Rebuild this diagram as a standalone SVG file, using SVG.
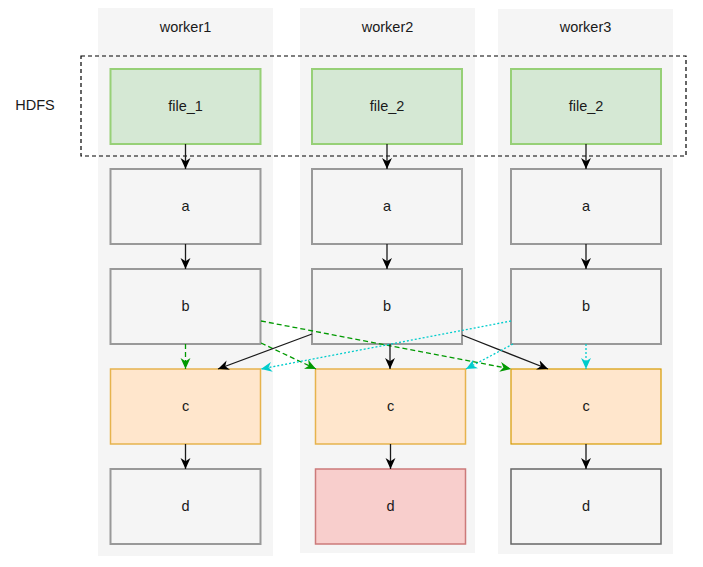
<svg xmlns="http://www.w3.org/2000/svg" width="703" height="567" viewBox="0 0 703 567">
<style>
.col{fill:#f5f5f5;stroke:none}
.grey{fill:#f5f5f5;stroke:#999999;stroke-width:2}
.grey2{fill:#f5f5f5;stroke:#666666;stroke-width:1.5}
.green{fill:#d5e8d4;stroke:#97d077;stroke-width:2}
.orange{fill:#ffe6cc;stroke:#e6b34d;stroke-width:1.5}
.orange2{fill:#ffe6cc;stroke:#d79b00;stroke-width:1.2}
.red{fill:#f8cecc;stroke:#cc7a7a;stroke-width:1.5}
text{font-family:"Liberation Sans",Arial,sans-serif;font-size:14.5px;fill:#1a1a1a;text-anchor:middle;dominant-baseline:central}
.blk{stroke:#1a1a1a;stroke-width:1.3;fill:none;marker-end:url(#ab)}
.grn{stroke:#009900;stroke-width:1.3;fill:none;stroke-dasharray:5 3;marker-end:url(#ag)}
.cyn{stroke:#00cccc;stroke-width:1.3;fill:none;stroke-dasharray:2 2;marker-end:url(#ac)}
</style>
<defs>
<marker id="ab" viewBox="0 0 10 10" refX="10" refY="5" markerWidth="11" markerHeight="11" markerUnits="userSpaceOnUse" orient="auto"><path d="M0,0.5 L10,5 L0,9.5 L3,5 Z" fill="#000000"/></marker>
<marker id="ag" viewBox="0 0 10 10" refX="10" refY="5" markerWidth="11" markerHeight="11" markerUnits="userSpaceOnUse" orient="auto"><path d="M0,0.5 L10,5 L0,9.5 L3,5 Z" fill="#009900"/></marker>
<marker id="ac" viewBox="0 0 10 10" refX="10" refY="5" markerWidth="11" markerHeight="11" markerUnits="userSpaceOnUse" orient="auto"><path d="M0,0.5 L10,5 L0,9.5 L3,5 Z" fill="#00cccc"/></marker>
</defs>
<rect width="703" height="567" fill="#ffffff"/>
<g id="worker1"><rect class="col" x="98" y="8" width="175" height="548"/><text x="185.5" y="26.5">worker1</text></g>
<g id="worker2"><rect class="col" x="300" y="8" width="175" height="545"/><text x="387.5" y="26.5">worker2</text></g>
<g id="worker3"><rect class="col" x="498" y="9" width="175" height="545"/><text x="585.5" y="26.5">worker3</text></g>
<g id="hdfs"><rect x="81" y="56" width="605" height="100" fill="none" stroke="#000000" stroke-width="1.2" stroke-dasharray="4 3"/><text x="35" y="105">HDFS</text></g>
<g id="file1"><rect class="green" x="110.5" y="69" width="150" height="75"/><text x="185.5" y="106">file_1</text></g>
<g id="file2a"><rect class="green" x="312" y="69" width="150" height="75"/><text x="387" y="106">file_2</text></g>
<g id="file2b"><rect class="green" x="511" y="69" width="150" height="75"/><text x="586" y="106">file_2</text></g>
<g id="a1"><rect class="grey" x="110.5" y="169" width="150" height="75"/><text x="185.5" y="206">a</text></g>
<g id="a2"><rect class="grey" x="312" y="169" width="150" height="75"/><text x="387" y="206">a</text></g>
<g id="a3"><rect class="grey" x="511" y="169" width="150" height="75"/><text x="586" y="206">a</text></g>
<g id="b1"><rect class="grey" x="110.5" y="269" width="150" height="75"/><text x="185.5" y="306">b</text></g>
<g id="b2"><rect class="grey" x="312" y="269" width="150" height="75"/><text x="387" y="306">b</text></g>
<g id="b3"><rect class="grey" x="511" y="269" width="150" height="75"/><text x="586" y="306">b</text></g>
<g id="c1"><rect class="orange" x="110.5" y="369" width="150" height="75"/><text x="185.5" y="406">c</text></g>
<g id="c2"><rect class="orange" x="315.5" y="369" width="150" height="75"/><text x="390.5" y="406">c</text></g>
<g id="c3"><rect class="orange2" x="511" y="369" width="150" height="75"/><text x="586" y="406">c</text></g>
<g id="d1"><rect class="grey" x="110.5" y="469" width="150" height="75"/><text x="185.5" y="506">d</text></g>
<g id="d2"><rect class="red" x="315.5" y="469" width="150" height="75"/><text x="390.5" y="506">d</text></g>
<g id="d3"><rect class="grey2" x="511" y="469" width="150" height="75"/><text x="586" y="506">d</text></g>
<g id="connectors">
<path class="blk" d="M185.5,144 V169"/>
<path class="blk" d="M387,144 V169"/>
<path class="blk" d="M586,144 V169"/>
<path class="blk" d="M185.5,244 V269"/>
<path class="blk" d="M387,244 V269"/>
<path class="blk" d="M586,244 V269"/>
<path class="blk" d="M185.5,444 V469"/>
<path class="blk" d="M390.5,444 V469"/>
<path class="blk" d="M586,444 V469"/>
<path class="grn" d="M185.5,344 V369"/>
<path class="grn" d="M261,343 L316,369"/>
<path class="grn" d="M261,321 L511,369"/>
<path class="blk" d="M312,334 L218,369"/>
<path class="blk" d="M390,344 V369"/>
<path class="blk" d="M462,335 L548,369"/>
<path class="cyn" d="M511,321 L261,369"/>
<path class="cyn" d="M513,344 L466,369"/>
<path class="cyn" d="M586,344 V369"/>
</g>
</svg>
